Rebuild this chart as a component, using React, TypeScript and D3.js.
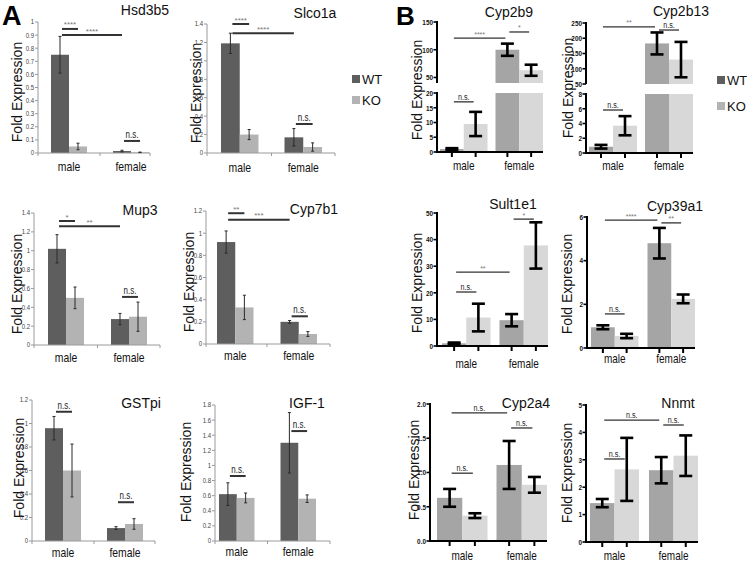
import React from "react";
import * as d3 from "d3";

// ---------- shared ----------
const groups = ["male", "female"];
const genotypes = ["WT", "KO"];

// ---------- Panel A (values: [male, female]) ----------
const hsd3b5WT = [0.75, 0.015];
const hsd3b5KO = [0.05, 0.005];
const hsd3b5WTErr = [0.14, 0.006];
const hsd3b5KOErr = [0.025, 0.002];

const slco1aWT = [1.19, 0.17];
const slco1aKO = [0.2, 0.065];
const slco1aWTErr = [0.11, 0.095];
const slco1aKOErr = [0.055, 0.045];

const mup3WT = [1.02, 0.275];
const mup3KO = [0.5, 0.3];
const mup3WTErr = [0.15, 0.06];
const mup3KOErr = [0.115, 0.155];

const cyp7b1WT = [0.92, 0.2];
const cyp7b1KO = [0.33, 0.09];
const cyp7b1WTErr = [0.1, 0.012];
const cyp7b1KOErr = [0.11, 0.022];

const gstpiWT = [0.96, 0.11];
const gstpiKO = [0.6, 0.145];
const gstpiWTErr = [0.1, 0.012];
const gstpiKOErr = [0.225, 0.045];

const igf1WT = [0.62, 1.3];
const igf1KO = [0.57, 0.56];
const igf1WTErr = [0.15, 0.4];
const igf1KOErr = [0.065, 0.05];

// ---------- Panel B ----------
const cyp2b9WT = [1, 100];
const cyp2b9KO = [9.5, 63];
const cyp2b9WTErr = [0.3, 11];
const cyp2b9KOErr = [4.1, 10];

const cyp2b13WT = [0.85, 183];
const cyp2b13KO = [3.7, 130];
const cyp2b13WTErr = [0.25, 36];
const cyp2b13KOErr = [1.3, 58];

const sult1e1WT = [1, 9.7];
const sult1e1KO = [10.7, 37.8];
const sult1e1WTErr = [0.3, 2.3];
const sult1e1KOErr = [5.2, 8.7];

const cyp39a1WT = [0.95, 4.8];
const cyp39a1KO = [0.55, 2.25];
const cyp39a1WTErr = [0.09, 0.7];
const cyp39a1KOErr = [0.1, 0.2];

const cyp2a4WT = [0.63, 1.11];
const cyp2a4KO = [0.37, 0.82];
const cyp2a4WTErr = [0.13, 0.35];
const cyp2a4KOErr = [0.035, 0.115];

const nnmtWT = [1.42, 2.62];
const nnmtKO = [2.65, 3.15];
const nnmtWTErr = [0.15, 0.48];
const nnmtKOErr = [1.15, 0.74];

// tick values
const ticksHsd3b5 = [0, 0.1, 0.2, 0.3, 0.4, 0.5, 0.6, 0.7, 0.8, 0.9, 1];
const ticks14 = [0, 0.2, 0.4, 0.6, 0.8, 1, 1.2, 1.4];
const ticks12 = [0, 0.2, 0.4, 0.6, 0.8, 1, 1.2];
const ticks18 = [0, 0.2, 0.4, 0.6, 0.8, 1, 1.2, 1.4, 1.6, 1.8];
const ticksCyp2b9Lo = [0, 5, 10, 15, 20];
const ticksCyp2b9Hi = [50, 100, 150];
const ticksCyp2b13Lo = [0, 2, 4, 6, 8];
const ticksCyp2b13Hi = [50, 100, 150, 200, 250];
const ticksSult1e1 = [0, 10, 20, 30, 40, 50];
const ticksCyp39a1 = [0, 2, 4, 6];
const ticksCyp2a4 = [0, 0.5, 1, 1.5, 2];
const ticksNnmt = [0, 1, 2, 3, 4, 5];

// significance annotations: bar index a -> b (0 WT male,1 KO male,2 WT female,3 KO female), level in data units
type Sig = { a: number; b: number; v: number; t: string; hi?: boolean };
const hsd3b5Sig: Sig[] = [
  { a: 0, b: 1, v: 0.947, t: "****" },
  { a: 0, b: 2, v: 0.9, t: "****" },
  { a: 2, b: 3, v: 0.092, t: "n.s." },
];
const slco1aSig: Sig[] = [
  { a: 0, b: 1, v: 1.4, t: "****" },
  { a: 0, b: 2, v: 1.3, t: "****" },
  { a: 2, b: 3, v: 0.315, t: "n.s." },
];
const mup3Sig: Sig[] = [
  { a: 0, b: 1, v: 1.315, t: "*" },
  { a: 0, b: 2, v: 1.26, t: "**" },
  { a: 2, b: 3, v: 0.51, t: "n.s." },
];
const cyp7b1Sig: Sig[] = [
  { a: 0, b: 1, v: 1.18, t: "**" },
  { a: 0, b: 2, v: 1.12, t: "***" },
  { a: 2, b: 3, v: 0.25, t: "n.s." },
];
const gstpiSig: Sig[] = [
  { a: 0, b: 1, v: 1.1, t: "n.s." },
  { a: 2, b: 3, v: 0.33, t: "n.s." },
];
const igf1Sig: Sig[] = [
  { a: 0, b: 1, v: 0.86, t: "n.s." },
  { a: 2, b: 3, v: 1.455, t: "n.s." },
];
const cyp2b9Sig: Sig[] = [
  { a: 0, b: 2, v: 121, t: "****", hi: true },
  { a: 2, b: 3, v: 132, t: "*", hi: true },
  { a: 0, b: 1, v: 17, t: "n.s." },
];
const cyp2b13Sig: Sig[] = [
  { a: 0, b: 2, v: 237, t: "**", hi: true },
  { a: 2, b: 3, v: 227, t: "n.s.", hi: true },
  { a: 0, b: 1, v: 5.83, t: "n.s." },
];
const sult1e1Sig: Sig[] = [
  { a: 0, b: 2, v: 27.8, t: "**" },
  { a: 0, b: 1, v: 20.3, t: "n.s." },
  { a: 2, b: 3, v: 47.7, t: "*" },
];
const cyp39a1Sig: Sig[] = [
  { a: 0, b: 2, v: 5.86, t: "****" },
  { a: 2, b: 3, v: 5.73, t: "**" },
  { a: 0, b: 1, v: 1.56, t: "n.s." },
];
const cyp2a4Sig: Sig[] = [
  { a: 0, b: 2, v: 1.87, t: "n.s." },
  { a: 2, b: 3, v: 1.65, t: "n.s." },
  { a: 0, b: 1, v: 0.99, t: "n.s." },
];
const nnmtSig: Sig[] = [
  { a: 0, b: 2, v: 4.45, t: "n.s." },
  { a: 2, b: 3, v: 4.27, t: "n.s." },
  { a: 0, b: 1, v: 3.03, t: "n.s." },
];

const SANS = "'Liberation Sans', Arial, Helvetica, sans-serif";

const A_WT = "#5e5e5e";
const A_KO = "#b3b3b3";
const B_WT = "#a5a5a5";
const B_KO = "#d8d8d8";

// condensed text (narrow font emulated by horizontal scaling)
function NText({ x, y, size, anchor = "middle", fill = "#111", bold = false, dy, children }:
  { x: number; y: number; size: number; anchor?: string; fill?: string; bold?: boolean; dy?: string; children: React.ReactNode }) {
  return (
    <text transform={`translate(${x},${y}) scale(0.8,1)`} textAnchor={anchor as any} dy={dy}
      fontFamily={SANS} fontSize={size} fontWeight={bold ? "bold" : "normal"} fill={fill}>{children}</text>
  );
}

type Layout = {
  axisX: number; axisEnd: number; barL: number; barR: number; gap: number;
  yBottom: number; yTop: number; titleX: number; titleY: number;
  labelX: number; labelY: number; xLabelY: number;
};

type ChartCfg = {
  title: string; wt: number[]; ko: number[]; wtErr: number[]; koErr: number[];
  yMax: number; ticks: number[]; sigs: Sig[]; fmt?: (v: number) => string;
  lowMax?: number; hiMin?: number; hiMax?: number; hiTicks?: number[];
  hiBottom?: number; hiTop?: number;
} & Layout;

function useScales(c: ChartCfg) {
  const step = (c.barR - c.barL + c.gap) / 2;
  const x = d3.scaleBand<string>().domain(groups).range([c.barL, c.barR]).paddingInner(c.gap / step).paddingOuter(0);
  const xi = d3.scaleBand<string>().domain(genotypes).range([0, x.bandwidth()]);
  const y = d3.scaleLinear().domain([0, c.lowMax ?? c.yMax]).range([c.yBottom, c.yTop]);
  const yh = c.hiMin !== undefined
    ? d3.scaleLinear().domain([c.hiMin, c.hiMax!]).range([c.hiBottom!, c.hiTop!])
    : null;
  const bars: { gi: number; k: string; v: number; e: number; x: number; w: number; cx: number }[] = [];
  groups.forEach((g, gi) => {
    genotypes.forEach((k) => {
      const v = k === "WT" ? c.wt[gi] : c.ko[gi];
      const e = k === "WT" ? c.wtErr[gi] : c.koErr[gi];
      const bx = x(g)! + xi(k)!;
      bars.push({ gi, k, v, e, x: bx, w: xi.bandwidth(), cx: bx + xi.bandwidth() / 2 });
    });
  });
  return { x, xi, y, yh, bars };
}

function Title({ c }: { c: ChartCfg }) {
  return (
    <>
      <text x={c.titleX} y={c.titleY} textAnchor="middle" fontFamily={SANS} fontSize={14} fill="#111">{c.title}</text>
      <text transform={`translate(${c.labelX},${c.labelY}) rotate(-90)`} textAnchor="middle" dy="0.35em" fontFamily={SANS} fontSize={14} fill="#111">Fold Expression</text>
    </>
  );
}

function ChartA({ c }: { c: ChartCfg }) {
  const { x, y, bars } = useScales(c);
  const mid = (x("male")! + x.bandwidth() + x("female")!) / 2;
  const fmt = c.fmt ?? ((v: number) => d3.format("~g")(+v.toFixed(2)));
  return (
    <g>
      <Title c={c} />
      <line x1={c.axisX} x2={c.axisX} y1={y(c.yMax)} y2={c.yBottom} stroke="#9a9a9a" strokeWidth={1} />
      {c.ticks.map((t) => (
        <g key={t}>
          <line x1={c.axisX - 3} x2={c.axisX} y1={y(t)} y2={y(t)} stroke="#9a9a9a" />
          <NText x={c.axisX - 4} y={y(t)} dy="0.33em" anchor="end" size={7.5} fill="#444">{fmt(t)}</NText>
        </g>
      ))}
      {bars.map((b, i) => (
        <rect key={i} x={b.x} width={b.w} y={y(b.v)} height={c.yBottom - y(b.v)} fill={b.k === "WT" ? A_WT : A_KO} />
      ))}
      <line x1={c.axisX} x2={c.axisEnd} y1={c.yBottom} y2={c.yBottom} stroke="#9a9a9a" strokeWidth={1} />
      {[c.axisX, mid, c.axisEnd].map((tx, i) => (
        <line key={i} x1={tx} x2={tx} y1={c.yBottom} y2={c.yBottom + 3} stroke="#9a9a9a" />
      ))}
      {bars.map((b, i) => (
        <g key={i} stroke="#2a2a2a" strokeWidth={1}>
          <line x1={b.cx} x2={b.cx} y1={y(b.v + b.e)} y2={y(Math.max(0, b.v - b.e))} />
          <line x1={b.cx - 1.5} x2={b.cx + 1.5} y1={y(b.v + b.e)} y2={y(b.v + b.e)} />
          <line x1={b.cx - 1.5} x2={b.cx + 1.5} y1={y(Math.max(0, b.v - b.e))} y2={y(Math.max(0, b.v - b.e))} />
        </g>
      ))}
      {groups.map((g) => (
        <NText key={g} x={x(g)! + x.bandwidth() / 2} y={c.xLabelY} size={13}>{g}</NText>
      ))}
      {c.sigs.map((s, i) => {
        const x1 = bars[s.a].cx + 2, x2 = bars[s.b].cx;
        const yy = y(s.v);
        const stars = s.t !== "n.s.";
        return (
          <g key={i}>
            <line x1={x1} x2={x2} y1={yy} y2={yy} stroke="#333" strokeWidth={2} />
            {stars
              ? <text x={(x1 + x2) / 2} y={yy - 1.5} textAnchor="middle" fontFamily={SANS} fontSize={8} fill="#777">{s.t}</text>
              : <NText x={(x1 + x2) / 2} y={yy - 3} size={10} fill="#222">{s.t}</NText>}
          </g>
        );
      })}
    </g>
  );
}

function ChartB({ c }: { c: ChartCfg }) {
  const { y, yh, x, bars } = useScales(c);
  const fmt = c.fmt ?? ((v: number) => String(v));
  const lowMax = c.lowMax ?? c.yMax;
  const ySig = (s: Sig) => (s.hi && yh ? yh(s.v) : y(s.v));
  return (
    <g>
      <Title c={c} />
      {bars.map((b, i) => {
        const fill = b.k === "WT" ? B_WT : B_KO;
        if (yh && b.v > lowMax) {
          return (
            <g key={i}>
              <rect x={b.x} width={b.w} y={y(lowMax)} height={c.yBottom - y(lowMax)} fill={fill} />
              <rect x={b.x} width={b.w} y={yh(b.v)} height={c.hiBottom! - yh(b.v)} fill={fill} />
            </g>
          );
        }
        return <rect key={i} x={b.x} width={b.w} y={y(b.v)} height={c.yBottom - y(b.v)} fill={fill} />;
      })}
      <line x1={c.axisX} x2={c.axisX} y1={y(lowMax) - 1} y2={c.yBottom + 1} stroke="#000" strokeWidth={2} />
      {c.ticks.map((t) => (
        <g key={t}>
          <line x1={c.axisX - 3.5} x2={c.axisX} y1={y(t)} y2={y(t)} stroke="#000" strokeWidth={1.6} />
          <NText x={c.axisX - 4} y={y(t)} dy="0.35em" anchor="end" bold size={8}>{fmt(t)}</NText>
        </g>
      ))}
      {yh && (
        <g>
          <line x1={c.axisX} x2={c.axisX} y1={c.hiTop! - 1} y2={c.hiBottom!} stroke="#000" strokeWidth={2} />
          {c.hiTicks!.map((t) => (
            <g key={t}>
              <line x1={c.axisX - 3.5} x2={c.axisX} y1={yh(t)} y2={yh(t)} stroke="#000" strokeWidth={1.6} />
              <NText x={c.axisX - 4} y={yh(t)} dy="0.35em" anchor="end" bold size={8}>{fmt(t)}</NText>
            </g>
          ))}
        </g>
      )}
      <line x1={c.axisX - 1} x2={c.axisEnd} y1={c.yBottom} y2={c.yBottom} stroke="#000" strokeWidth={2} />
      {bars.map((b, i) => (
        <line key={i} x1={b.cx} x2={b.cx} y1={c.yBottom} y2={c.yBottom + 5} stroke="#000" strokeWidth={2} />
      ))}
      {bars.map((b, i) => {
        const sc = yh && b.v > lowMax ? yh : y;
        const top = sc(b.v + b.e), bot = sc(Math.max(0, b.v - b.e));
        const hw = 6.5;
        return (
          <g key={i} stroke="#000" strokeWidth={2.6}>
            <line x1={b.cx} x2={b.cx} y1={top} y2={bot} />
            <line x1={b.cx - hw} x2={b.cx + hw} y1={top} y2={top} />
            <line x1={b.cx - hw} x2={b.cx + hw} y1={bot} y2={bot} />
          </g>
        );
      })}
      {groups.map((g) => (
        <NText key={g} x={x(g)! + x.bandwidth() / 2} y={c.xLabelY} size={12.5}>{g}</NText>
      ))}
      {c.sigs.map((s, i) => {
        const x1 = bars[s.a].cx + 2, x2 = bars[s.b].cx - 2;
        const yy = ySig(s);
        const stars = s.t !== "n.s.";
        return (
          <g key={i}>
            <line x1={x1} x2={x2} y1={yy} y2={yy} stroke="#333" strokeWidth={1.3} />
            {stars
              ? <text x={(x1 + x2) / 2} y={yy - 1.5} textAnchor="middle" fontFamily={SANS} fontSize={7} fill="#777">{s.t}</text>
              : <NText x={(x1 + x2) / 2} y={yy - 2} size={9} fill="#222">{s.t}</NText>}
          </g>
        );
      })}
    </g>
  );
}

const chartsA: ChartCfg[] = [
  { title: "Hsd3b5", wt: hsd3b5WT, ko: hsd3b5KO, wtErr: hsd3b5WTErr, koErr: hsd3b5KOErr, yMax: 1, ticks: ticksHsd3b5, sigs: hsd3b5Sig,
    axisX: 38, axisEnd: 150, barL: 51, barR: 149, gap: 26, yBottom: 153, yTop: 22, titleX: 145, titleY: 15, labelX: 17, labelY: 92, xLabelY: 171 },
  { title: "Slco1a", wt: slco1aWT, ko: slco1aKO, wtErr: slco1aWTErr, koErr: slco1aKOErr, yMax: 1.4, ticks: ticks14, sigs: slco1aSig,
    axisX: 207, axisEnd: 335, barL: 221, barR: 322, gap: 26, yBottom: 153, yTop: 24, titleX: 315, titleY: 18, labelX: 196, labelY: 93, xLabelY: 172 },
  { title: "Mup3", wt: mup3WT, ko: mup3KO, wtErr: mup3WTErr, koErr: mup3KOErr, yMax: 1.4, ticks: ticks14, sigs: mup3Sig,
    axisX: 34, axisEnd: 160, barL: 48, barR: 147, gap: 27, yBottom: 345, yTop: 213, titleX: 140, titleY: 215, labelX: 17, labelY: 284, xLabelY: 362 },
  { title: "Cyp7b1", wt: cyp7b1WT, ko: cyp7b1KO, wtErr: cyp7b1WTErr, koErr: cyp7b1KOErr, yMax: 1.2, ticks: ticks12, sigs: cyp7b1Sig,
    axisX: 206, axisEnd: 330, barL: 217, barR: 317, gap: 27, yBottom: 344, yTop: 211, titleX: 314, titleY: 214, labelX: 189, labelY: 282, xLabelY: 360 },
  { title: "GSTpi", wt: gstpiWT, ko: gstpiKO, wtErr: gstpiWTErr, koErr: gstpiKOErr, yMax: 1.2, ticks: ticks12, sigs: gstpiSig,
    axisX: 32, axisEnd: 155, barL: 45, barR: 143, gap: 26, yBottom: 541, yTop: 400, titleX: 141, titleY: 408, labelX: 19, labelY: 468, xLabelY: 557 },
  { title: "IGF-1", wt: igf1WT, ko: igf1KO, wtErr: igf1WTErr, koErr: igf1KOErr, yMax: 1.8, ticks: ticks18, sigs: igf1Sig,
    axisX: 215, axisEnd: 330, barL: 219, barR: 316, gap: 26, yBottom: 541, yTop: 405, titleX: 307, titleY: 408, labelX: 186, labelY: 472, xLabelY: 556 },
];

const chartsB: ChartCfg[] = [
  { title: "Cyp2b9", wt: cyp2b9WT, ko: cyp2b9KO, wtErr: cyp2b9WTErr, koErr: cyp2b9KOErr, yMax: 20, ticks: ticksCyp2b9Lo, sigs: cyp2b9Sig,
    lowMax: 20, hiMin: 40, hiMax: 150, hiTicks: ticksCyp2b9Hi, hiBottom: 83, hiTop: 22,
    axisX: 437, axisEnd: 543, barL: 440, barR: 543, gap: 8, yBottom: 152, yTop: 93, titleX: 509, titleY: 17, labelX: 417, labelY: 90, xLabelY: 170 },
  { title: "Cyp2b13", wt: cyp2b13WT, ko: cyp2b13KO, wtErr: cyp2b13WTErr, koErr: cyp2b13KOErr, yMax: 8, ticks: ticksCyp2b13Lo, sigs: cyp2b13Sig,
    lowMax: 8, hiMin: 50, hiMax: 250, hiTicks: ticksCyp2b13Hi, hiBottom: 84, hiTop: 23,
    axisX: 586, axisEnd: 693, barL: 589, barR: 693, gap: 8, yBottom: 153, yTop: 94, titleX: 681, titleY: 16, labelX: 568, labelY: 88, xLabelY: 170 },
  { title: "Sult1e1", wt: sult1e1WT, ko: sult1e1KO, wtErr: sult1e1WTErr, koErr: sult1e1KOErr, yMax: 50, ticks: ticksSult1e1, sigs: sult1e1Sig,
    axisX: 437, axisEnd: 548, barL: 442, barR: 548, gap: 9, yBottom: 346, yTop: 213, titleX: 513, titleY: 209, labelX: 417, labelY: 283, xLabelY: 368 },
  { title: "Cyp39a1", wt: cyp39a1WT, ko: cyp39a1KO, wtErr: cyp39a1WTErr, koErr: cyp39a1KOErr, yMax: 6, ticks: ticksCyp39a1, sigs: cyp39a1Sig,
    axisX: 587, axisEnd: 695, barL: 591, barR: 695, gap: 9, yBottom: 348, yTop: 217, titleX: 675, titleY: 211, labelX: 567, labelY: 284, xLabelY: 363 },
  { title: "Cyp2a4", wt: cyp2a4WT, ko: cyp2a4KO, wtErr: cyp2a4WTErr, koErr: cyp2a4KOErr, yMax: 2, ticks: ticksCyp2a4, sigs: cyp2a4Sig,
    fmt: (v: number) => v.toFixed(1),
    axisX: 430, axisEnd: 547, barL: 437, barR: 547, gap: 9, yBottom: 541, yTop: 404, titleX: 526, titleY: 408, labelX: 414, labelY: 470, xLabelY: 560 },
  { title: "Nnmt", wt: nnmtWT, ko: nnmtKO, wtErr: nnmtWTErr, koErr: nnmtKOErr, yMax: 5, ticks: ticksNnmt, sigs: nnmtSig,
    axisX: 586, axisEnd: 698, barL: 590, barR: 698, gap: 10, yBottom: 542, yTop: 405, titleX: 678, titleY: 408, labelX: 567, labelY: 473, xLabelY: 560 },
];

function Legend({ x, y1, y2, wt, ko }: { x: number; y1: number; y2: number; wt: string; ko: string }) {
  return (
    <g>
      {genotypes.map((g, i) => {
        const cy = i === 0 ? y1 : y2;
        return (
          <g key={g}>
            <rect x={x} y={cy - 4} width={8} height={8} fill={i === 0 ? wt : ko} />
            <text x={x + 10} y={cy} dy="0.36em" fontFamily={SANS} fontSize={13} fill="#111">{g}</text>
          </g>
        );
      })}
    </g>
  );
}

export default function App() {
  return (
    <svg width={747} height={562} style={{ position: "absolute", left: 0, top: 0, background: "#fff" }}>
      <rect width={747} height={562} fill="#fff" />
      <text x={2} y={25} fontFamily={SANS} fontWeight="bold" fontSize={27} fill="#000">A</text>
      <text x={396} y={25} fontFamily={SANS} fontWeight="bold" fontSize={26} fill="#000">B</text>
      {chartsA.map((c) => <ChartA key={c.title} c={c} />)}
      {chartsB.map((c) => <ChartB key={c.title} c={c} />)}
      <Legend x={352} y1={79} y2={100} wt={A_WT} ko={A_KO} />
      <Legend x={717} y1={80} y2={106} wt={A_WT} ko={A_KO} />
    </svg>
  );
}
